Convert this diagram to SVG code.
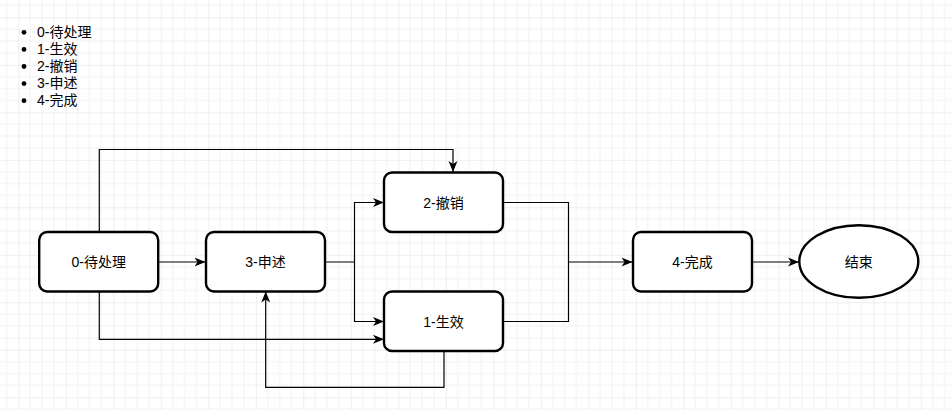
<svg xmlns="http://www.w3.org/2000/svg" width="952" height="410" viewBox="0 0 952 410">
  <defs>
    <pattern id="grid" patternUnits="userSpaceOnUse" x="18.3" y="17.3" width="47.5" height="47.5">
      <path d="M11.875 0V47.5M23.75 0V47.5M35.625 0V47.5M0 11.875H47.5M0 23.75H47.5M0 35.625H47.5" stroke="#f2f2f2" stroke-width="1" fill="none"/>
      <path d="M0 0V47.5M0 0H47.5" stroke="#dedede" stroke-width="1" fill="none"/>
    </pattern>
    <marker id="arr" markerUnits="userSpaceOnUse" markerWidth="12" markerHeight="11" refX="11" refY="5" orient="auto">
      <path d="M0,0.5 L11,5 L0,9.5 L3,5 Z" fill="#000"/>
    </marker>
  </defs>
  <style>
    .box { fill: #fff; stroke: #000; stroke-width: 2.4; }
    .lbl { font-family: "Liberation Sans", "Noto Sans CJK SC", sans-serif; font-size: 14px; fill: #000; text-anchor: middle; }
    .lst { font-family: "Liberation Sans", "Noto Sans CJK SC", sans-serif; font-size: 14px; fill: #000; }
    .edge { fill: none; stroke: #000; stroke-width: 1.2; marker-end: url(#arr); }
    .plain { fill: none; stroke: #000; stroke-width: 1.2; }
  </style>
  <rect x="0" y="0" width="952" height="410" fill="#fff"/>
  <rect x="0" y="0" width="952" height="410" fill="url(#grid)"/>

  <g id="legend">
    <circle cx="24" cy="32.3" r="2.4" fill="#000"/>
    <circle cx="24" cy="49.4" r="2.4" fill="#000"/>
    <circle cx="24" cy="66.5" r="2.4" fill="#000"/>
    <circle cx="24" cy="83.6" r="2.4" fill="#000"/>
    <circle cx="24" cy="100.7" r="2.4" fill="#000"/>
    <text class="lst" x="37" y="37">0-待处理</text>
    <text class="lst" x="37" y="54.1">1-生效</text>
    <text class="lst" x="37" y="71.2">2-撤销</text>
    <text class="lst" x="37" y="88.3">3-申述</text>
    <text class="lst" x="37" y="105.4">4-完成</text>
  </g>

  <g id="connectors">
    <path class="edge" d="M158.5 262H205.5"/>
    <path class="edge" d="M99.3 232V149.5H453V172"/>
    <path class="edge" d="M99.3 291.5V339.3H384"/>
    <path class="edge" d="M325.5 262H354.5V202.5H384"/>
    <path class="edge" d="M354.5 262V321.5H384"/>
    <path class="edge" d="M503.5 202.5H568.5V262H632.5"/>
    <path class="plain" d="M503.5 321.5H568.5V262"/>
    <path class="edge" d="M444 351V387.3H265.7V291.5"/>
    <path class="edge" d="M752.5 262H799"/>
  </g>

  <g id="node0">
    <rect class="box" x="39.2" y="232" width="119" height="59.5" rx="8"/>
    <text class="lbl" x="98.7" y="267">0-待处理</text>
  </g>
  <g id="node3">
    <rect class="box" x="206" y="232" width="119" height="59.5" rx="8"/>
    <text class="lbl" x="265.5" y="267">3-申述</text>
  </g>
  <g id="node2">
    <rect class="box" x="384" y="172.5" width="119" height="59.5" rx="8"/>
    <text class="lbl" x="443.5" y="207.5">2-撤销</text>
  </g>
  <g id="node1">
    <rect class="box" x="384" y="291.5" width="119" height="59.5" rx="8"/>
    <text class="lbl" x="443.5" y="326.5">1-生效</text>
  </g>
  <g id="node4">
    <rect class="box" x="633" y="232" width="119" height="59.5" rx="8"/>
    <text class="lbl" x="692.5" y="267">4-完成</text>
  </g>
  <g id="end">
    <ellipse class="box" cx="858.8" cy="261.5" rx="59.5" ry="36.3"/>
    <text class="lbl" x="858.8" y="266.5">结束</text>
  </g>
</svg>
